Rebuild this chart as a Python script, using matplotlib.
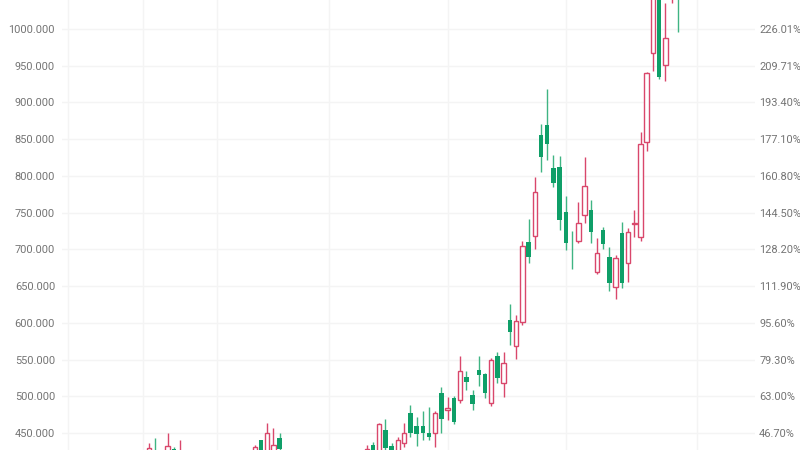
import matplotlib
matplotlib.use('Agg')
import matplotlib.pyplot as plt

plt.rcParams['font.family'] = ['Roboto', 'DejaVu Sans']

# daily candles (open, high, low, close); the ones in the middle run below the visible window
opens = [420, 425, 418, 420, 428, 415,
         412, 408, 405, 410, 402, 400, 404, 398, 401, 406, 410,
         420, 440.5, 425, 425, 443,
         418, 412, 405, 400, 396, 392, 398, 401, 404, 408, 410, 412, 415,
         418, 433.7, 425, 454, 432, 426, 436.4, 477.2, 459.5, 459.5, 450, 450,
         504.5, 482, 497.6, 494.9, 526.3, 501.7, 535.8, 530, 490.9, 554.8, 518,
         603.8, 568.4, 601, 710, 718.2, 855.7, 869.3, 810.8, 812.2, 750.9, 712,
         711.4, 746.8, 753.6, 669.2, 726.4, 689.6, 648.8, 722.3, 681.4, 735,
         716.9, 846.2, 967.3, 1045, 951, 1045, 1070]
highs = [436, 443, 425, 450, 431, 440,
         418, 414, 412, 415, 408, 406, 410, 405, 408, 412, 418,
         434, 441, 463.6, 457, 450,
         422, 418, 410, 406, 402, 400, 404, 406, 409, 413, 416, 418, 421,
         433.7, 438, 463, 469, 436, 444.5, 463.6, 488, 471.8, 480, 485.4, 480,
         512.6, 499, 501, 554.8, 534.4, 508.5, 554.8, 532, 552, 560, 560,
         625.6, 610, 711.4, 741.3, 798.5, 870.7, 918.3, 828.5, 827, 772.7, 725,
         764.5, 825.7, 767.2, 715.5, 730.5, 703.2, 692, 737.3, 729, 753.6,
         859.8, 941.5, 1060, 1050, 1035.4, 1070, 1080]
lows = [410, 408, 410, 415, 412, 408,
        400, 398, 396, 398, 392, 390, 394, 390, 392, 398, 402,
        414, 415, 418, 420, 422,
        408, 402, 396, 390, 386, 384, 388, 392, 396, 398, 402, 404, 408,
        412, 420, 420, 424, 418, 420, 431, 444.6, 432.3, 440.5, 440.5, 431,
        450, 467.7, 462, 490.9, 508, 481, 514, 497.6, 486.8, 518, 499,
        569.8, 550.8, 597, 681.4, 700.5, 805.3, 821.7, 785, 726.4, 699.1, 673.3,
        708.7, 735.9, 708.7, 666.5, 700.5, 643.3, 632.5, 647.4, 655.6, 716.9,
        712, 834, 942.8, 932, 929.2, 1035, 996]
closes = [430, 415, 422, 433, 418, 425,
          408, 404, 408, 404, 400, 403, 399, 402, 405, 409, 414,
          431, 422, 450, 434, 428,
          413, 406, 401, 397, 393, 396, 400, 403, 406, 409, 411, 414, 417,
          428, 426, 462.3, 430, 424, 440.5, 450, 450, 448.6, 450, 444.6, 477.2,
          469, 483.5, 465, 534.4, 519.5, 489.5, 529, 504.4, 549.4, 525, 545.4,
          587.5, 602.5, 704.6, 689.6, 778.1, 825.8, 843.4, 790.3, 740, 708.7, 711,
          735.9, 786.3, 723.6, 695, 707.3, 654.2, 688.2, 654.2, 723.6, 736.5,
          843.4, 940.1, 1050, 934.7, 987.8, 1060, 1050]

price_ticks = [450, 500, 550, 600, 650, 700, 750, 800, 850, 900, 950, 1000]
pct_labels = ['46.70%', '63.00%', '79.30%', '95.60%', '111.90%', '128.20%',
              '144.50%', '160.80%', '177.10%', '193.40%', '209.71%', '226.01%']
grid_days = [-13, -1, 11, 29, 48, 67, 88]

up_color = '#d9476b'
down_color = '#0f9f68'
down_wick = '#3fb483'
label_color = '#747474'

fig = plt.figure(figsize=(8, 4.5), dpi=100)
ax = fig.add_axes([62 / 800, 0, (755 - 62) / 800, 1])

for i in range(len(opens)):
    o, h, l, c = opens[i], highs[i], lows[i], closes[i]
    if c >= o:
        ax.vlines(i, l, h, color=up_color, linewidth=1.0, zorder=2)
        ax.bar(i, max(c - o, 0.8), bottom=o, width=0.72, facecolor='white',
               edgecolor=up_color, linewidth=1.0, zorder=3)
    else:
        ax.vlines(i, l, h, color=down_wick, linewidth=1.0, zorder=2)
        ax.bar(i, o - c, bottom=c, width=0.72, color=down_color,
               linewidth=0, zorder=3)

ax.set_xlim(-13.98, 97.4)
ax.set_ylim(426.9, 1039.5)

ax.set_yticks(price_ticks)
ax.set_yticklabels([f'{p:.3f}' for p in price_ticks])
ax.set_xticks(grid_days)
ax.set_xticklabels([])
ax.tick_params(axis='both', length=0)
ax.tick_params(axis='y', pad=5, labelsize=7.9, labelcolor=label_color)
ax.grid(True, color='#f4f4f4', linewidth=1.0, zorder=0)
ax.set_axisbelow(True)
for s in ax.spines.values():
    s.set_visible(False)

ax2 = ax.twinx()
ax2.set_ylim(ax.get_ylim())
ax2.set_yticks(price_ticks)
ax2.set_yticklabels(pct_labels)
ax2.tick_params(axis='y', length=0, pad=3, labelsize=7.9, labelcolor=label_color)
for s in ax2.spines.values():
    s.set_visible(False)

fig.savefig('out.png', dpi=100)
